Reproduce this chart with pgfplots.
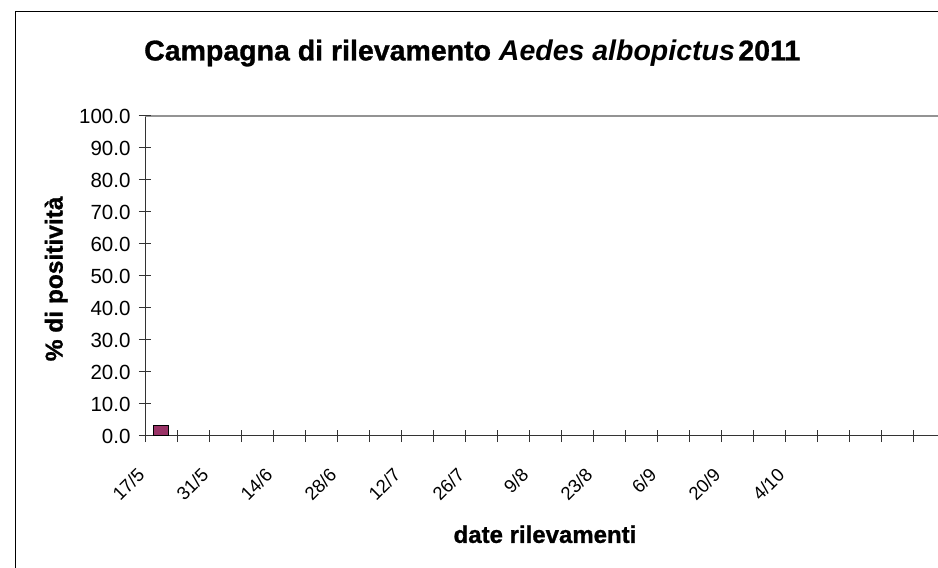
\documentclass[border=0pt]{standalone}
\usepackage{fontspec}
\setmainfont{Liberation Sans}[BoldFeatures={FakeBold=1}]
\usepackage{pgfplots}
\pgfplotsset{compat=1.18}
\definecolor{barcol}{HTML}{993366}
\definecolor{axcol}{HTML}{333333}
\begin{document}
\begin{tikzpicture}[x=1pt,y=1pt]
\useasboundingbox (0,0) rectangle (938,568);
\clip (0,0) rectangle (938,568);
\fill[white] (0,0) rectangle (938,568);
\draw[black, line width=1pt] (15,-20) -- (15,556) -- (960,556);
\begin{axis}[
  at={(145pt,132pt)}, anchor=south west,
  scale only axis, width=800pt, height=320pt,
  xmin=-0.5, xmax=24.5, ymin=0, ymax=100,
  axis lines=left,
  axis line style={-, axcol, line width=1pt},
  tick style={axcol, line width=1pt},
  major tick length=12pt, tick align=center,
  xtick={-0.5,0.5,...,24.5}, xticklabels={},
  extra x ticks={-0.375,1.625,3.625,5.625,7.625,9.625,11.625,13.625,15.625,17.625,19.625},
  extra x tick labels={17/5,31/5,14/6,28/6,12/7,26/7,9/8,23/8,6/9,20/9,4/10},
  extra x tick style={major tick length=0pt},
  xticklabel style={font=\fontsize{18.5}{22}\selectfont, inner ysep=0pt, inner xsep=18pt, rotate=45, anchor=north east, xshift=-12.7pt, yshift=-12.7pt},
  ytick={0,10,...,100},
  extra y ticks={100}, extra y tick labels={},
  extra y tick style={grid=major, major grid style={gray!85, line width=1.3pt}},
  yticklabel style={font=\fontsize{20.5}{24}\selectfont, xshift=-5pt, /pgf/number format/.cd, fixed, fixed zerofill, precision=1, assume math mode=true},
  title={Campagna di rilevamento \textit{Aedes albopictus}\hspace{0.12em}2011},
  title style={font=\fontsize{28.5}{32}\selectfont\bfseries, at={(0.409,1.155)}, anchor=base},
  xlabel={date rilevamenti},
  xlabel style={font=\fontsize{24}{28}\selectfont\bfseries, at={(0.5,-0.334)}, anchor=base},
  ylabel={\% di positività},
  ylabel style={font=\fontsize{24.5}{28}\selectfont\bfseries, at={(-0.103,0.491)}, anchor=base},
  clip=false,
]
\addplot[ybar, bar width=14.5pt, bar shift=0pt, fill=barcol, draw=black, line width=1pt] coordinates {(0,3.3)};
\end{axis}
\end{tikzpicture}
\end{document}
